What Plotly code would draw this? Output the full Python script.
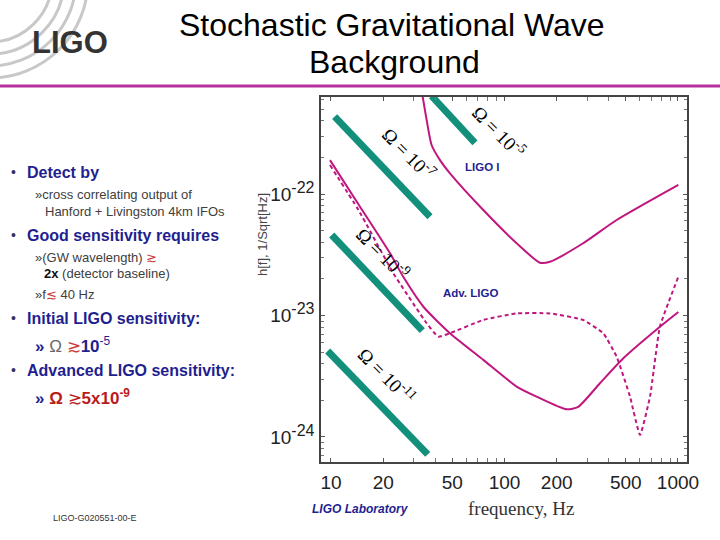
import plotly.graph_objects as go

# ---------------- data ----------------
ligo1_f = [33.6, 35.6, 38.0, 42.5, 48.5, 75.5, 117.5, 160, 183, 284, 443, 1005]
ligo1_h = [6.6e-22, 4.06e-22, 2.53e-22, 1.9e-22, 1.48e-22, 7.38e-23, 3.93e-23,
           2.72e-23, 2.77e-23, 3.93e-23, 6.11e-23, 1.19e-22]

adv_f = [9.87, 14.7, 21.9, 26.1, 34.1, 48.5, 75.5, 117.5, 153, 228, 266, 355, 484, 787, 1005]
adv_h = [1.9e-22, 7.86e-23, 3.25e-23, 2.08e-23, 1.18e-23, 7.14e-24, 4.31e-24, 2.60e-24,
         2.15e-24, 1.69e-24, 1.77e-24, 2.77e-24, 4.45e-24, 8.09e-24, 1.07e-23]

advnb_f = [9.87, 14.4, 22.9, 35.6, 41.5, 48.5, 75.5, 117.5, 183, 284, 371, 443, 529, 604, 690, 787, 1005]
advnb_h = [1.73e-22, 7.38e-23, 2.22e-23, 8.63e-24, 6.70e-24, 7.14e-24, 9.19e-24, 1.04e-23,
           1.04e-23, 9.19e-24, 7.14e-24, 4.58e-24, 2.15e-24, 1.04e-24, 2.15e-24, 8.09e-24, 2.08e-23]

omega_labels = ["Ω = 10<sup>-5</sup>", "Ω = 10<sup>-7</sup>", "Ω = 10<sup>-9</sup>", "Ω = 10<sup>-11</sup>"]
omega_f = [[38.0, 67.6], [10.5, 37.2], [10.1, 33.6], [9.57, 36.1]]
omega_h = [[6.41e-22, 2.64e-22], [4.33e-22, 6.50e-23], [4.60e-23, 7.5e-24], [5.1e-24, 7.2e-25]]

x_tickvals = [10, 20, 50, 100, 200, 500, 1000]
x_ticktext = ["10", "20", "50", "100", "200", "500", "1000"]
y_tickvals = [1e-22, 1e-23, 1e-24]
y_exponents = ["-22", "-23", "-24"]
y_ticktext = ["10<sup><span style='font-size:16px'>%s</span></sup>" % e for e in y_exponents]

title_lines = ["Stochastic Gravitational Wave", "Background"]

# ---------------- layout helpers ----------------
L, R, T, B = 321, 687, 97, 462
W, H = 720, 540


def px(x):
    return (x - L) / (R - L)


def py(y):
    return (B - y) / (B - T)


MAG = "#c0177f"
GREEN = "#13907b"
NAVY = "#1f1f8f"
SANS = "Liberation Sans, Arial, sans-serif"
SERIF = "Liberation Serif, Times New Roman, serif"

fig = go.Figure()

for fs, hs in zip(omega_f, omega_h):
    fig.add_trace(go.Scatter(x=fs, y=hs, mode="lines",
                             line=dict(color=GREEN, width=7), hoverinfo="skip"))

fig.add_trace(go.Scatter(x=ligo1_f, y=ligo1_h, mode="lines",
                         line=dict(color=MAG, width=2, shape="spline", smoothing=0.6)))
fig.add_trace(go.Scatter(x=adv_f, y=adv_h, mode="lines",
                         line=dict(color=MAG, width=2, shape="spline", smoothing=0.6)))
fig.add_trace(go.Scatter(x=advnb_f, y=advnb_h, mode="lines",
                         line=dict(color=MAG, width=2, dash="4px,3px", shape="spline", smoothing=0.4)))

minor_x = [v * d for d in (10, 100) for v in range(1, 10)] + [1000]
minor_x = [v for v in minor_x if v not in x_tickvals]
minor_y = [m * 10.0 ** e for e in (-25, -24, -23, -22) for m in range(2, 10)]

fig.update_xaxes(type="log", range=[0.9424, 3.052], tickvals=x_tickvals, ticktext=x_ticktext,
                 ticks="inside", ticklen=4, tickcolor="#555", showline=True, linecolor="#444",
                 linewidth=1.5, mirror="ticks", showgrid=False, zeroline=False,
                 tickfont=dict(family=SANS, size=19, color="#222"), ticklabelstandoff=2,
                 minor=dict(tickvals=minor_x, ticks="inside", ticklen=4, tickcolor="#777", showgrid=False))
fig.update_yaxes(type="log", range=[-24.206, -21.2016], tickvals=y_tickvals, ticktext=y_ticktext,
                 ticks="inside", ticklen=4, tickcolor="#555", showline=True, linecolor="#444",
                 linewidth=1.5, mirror="ticks", showgrid=False, zeroline=False,
                 tickfont=dict(family=SANS, size=19, color="#222"), ticklabelstandoff=1,
                 minor=dict(tickvals=minor_y, ticks="inside", ticklen=3, tickcolor="#777", showgrid=False))

ann = []


def add(x, y, text, size, color="#000", family=SANS, xanchor="left", angle=0, yanchor="middle"):
    ann.append(dict(x=px(x), y=py(y), xref="paper", yref="paper", text=text, showarrow=False,
                    xanchor=xanchor, yanchor=yanchor, textangle=angle,
                    font=dict(size=size, color=color, family=family)))


# title and logo
add(392, 25, title_lines[0], 32, "#000", xanchor="center")
add(394, 62, title_lines[1], 32, "#000", xanchor="center")
add(70, 42, "<b>LIGO</b>", 31, "#333333", xanchor="center")

# omega labels
omega_pos = [(499, 131), (409, 153), (383, 253), (387, 375)]
for (x, y), t in zip(omega_pos, omega_labels):
    add(x, y, t, 19, "#000", family=SERIF, xanchor="center", angle=45)

add(482, 167, "<b>LIGO I</b>", 11.5, NAVY, xanchor="center")
add(470, 293, "<b>Adv. LIGO</b>", 11.5, NAVY, xanchor="center")
add(262, 235, "h[f], 1/Sqrt[Hz]", 13, "#444", xanchor="center", angle=-90)
add(521, 508, "frequency, Hz", 19, "#333", family=SERIF, xanchor="center")
add(360, 509, "<b><i>LIGO Laboratory</i></b>", 12, NAVY, xanchor="center")
add(95, 518, "LIGO-G020551-00-E", 9, "#333", xanchor="center")

# left column text
RED = "#c83c3c"
GRAY = "#404040"
for y, t in [(172, "Detect by"), (235, "Good sensitivity requires"),
             (318, "Initial LIGO sensitivity:"), (370, "Advanced LIGO sensitivity:")]:
    add(9, y, "•", 14, "#333366")
    add(25, y, "<b>" + t + "</b>", 16, NAVY)

add(33, 194, "»cross correlating output of", 13, GRAY)
add(43, 211, "Hanford + Livingston 4km IFOs", 13, GRAY)
add(33, 257, "»(GW wavelength) <span style='color:%s'>≳</span>" % RED, 13, GRAY)
add(42, 273, "<b><span style='color:#111'>2x</span></b> (detector baseline)", 13, GRAY)
add(33, 294, "»f<span style='color:%s'>≲</span> 40 Hz" % RED, 13, GRAY)
add(33, 345, "<b>»</b> <span style='color:#666'>Ω</span> <span style='color:%s'>≳</span><b>10</b><sup>-5</sup>" % RED,
    17, NAVY)
add(33, 397, "<b>»</b> <span style='color:#b81c1c'><b>Ω</b> ≳<b>5x10<sup>-9</sup></b></span>", 17, NAVY)

shapes = [dict(type="line", xref="paper", yref="paper", x0=px(0), x1=px(720), y0=py(86), y1=py(86),
               line=dict(color="#b4309e", width=3))]
for r in (62, 74, 86, 98):
    shapes.append(dict(type="circle", xref="paper", yref="paper", layer="below",
                       x0=px(-10 - r), x1=px(-10 + r), y0=py(-20 + r), y1=py(-20 - r),
                       line=dict(color="#c8c8c8", width=3)))

fig.update_layout(width=W, height=H, autosize=False, showlegend=False,
                  margin=dict(l=L, r=W - R, t=T, b=H - B, pad=0),
                  paper_bgcolor="white", plot_bgcolor="white",
                  annotations=ann, shapes=shapes)

fig.write_html("out.html", config={"displayModeBar": False},
               post_script="document.body.style.margin='0';document.body.style.overflow='hidden';")
